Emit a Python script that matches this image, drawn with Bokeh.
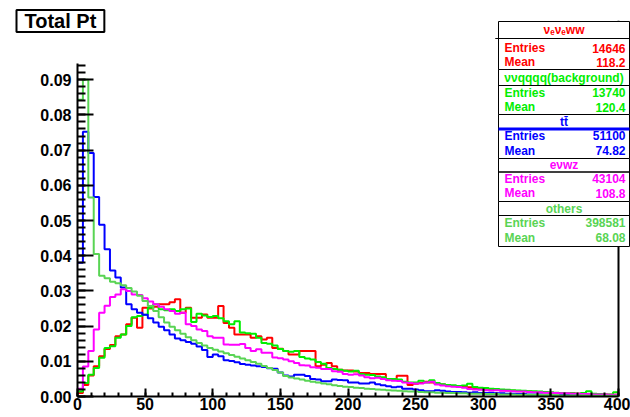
import numpy as np
from bokeh.plotting import figure
from bokeh.models import Label, BoxAnnotation, Span, FixedTicker, PrintfTickFormatter, Range1d
from bokeh.embed import file_html
from bokeh.resources import INLINE

# ---------------- data ----------------
bin_width = 4
x_low, x_high = 0, 400

red_vevew = [
    0.0010, 0.0033, 0.0060, 0.0086, 0.0114, 0.0135, 0.0146, 0.0171, 0.0176, 0.0205,
    0.0224, 0.0195, 0.0252, 0.0250, 0.0255, 0.0262, 0.0262, 0.0268, 0.0276, 0.0238,
    0.0252, 0.0224, 0.0224, 0.0233, 0.0224, 0.0224, 0.0257, 0.0209, 0.0195, 0.0176,
    0.0176, 0.0176, 0.0167, 0.0171, 0.0162, 0.0167, 0.0138, 0.0136, 0.0129, 0.0119,
    0.0119, 0.0129, 0.0129, 0.0129, 0.0086, 0.0090, 0.0095, 0.0086, 0.0076, 0.0074,
    0.0074, 0.0071, 0.0067, 0.0067, 0.0064, 0.0064, 0.0064, 0.0050, 0.0050, 0.0059,
    0.0059, 0.0033, 0.0036, 0.0038, 0.0042, 0.0040, 0.0036, 0.0034, 0.0031, 0.0030,
    0.0028, 0.0028, 0.0026, 0.0024, 0.0023, 0.0022, 0.0020, 0.0019, 0.0018, 0.0017,
    0.0016, 0.0015, 0.0015, 0.0014, 0.0013, 0.0012, 0.0012, 0.0011, 0.0010, 0.0010,
    0.0009, 0.0009, 0.0008, 0.0008, 0.0007, 0.0007, 0.0006, 0.0006, 0.0005, 0.0005,
]

green_vvqqqq = [
    0.0014, 0.0038, 0.0062, 0.0081, 0.0110, 0.0138, 0.0143, 0.0167, 0.0176, 0.0200,
    0.0225, 0.0229, 0.0232, 0.0252, 0.0262, 0.0248, 0.0245, 0.0248, 0.0243, 0.0248,
    0.0250, 0.0212, 0.0235, 0.0230, 0.0226, 0.0229, 0.0222, 0.0214, 0.0205, 0.0214,
    0.0182, 0.0180, 0.0178, 0.0167, 0.0152, 0.0150, 0.0145, 0.0135, 0.0129, 0.0127,
    0.0129, 0.0112, 0.0108, 0.0105, 0.0098, 0.0093, 0.0081, 0.0078, 0.0076, 0.0073,
    0.0071, 0.0073, 0.0064, 0.0062, 0.0061, 0.0057, 0.0055, 0.0050, 0.0050, 0.0048,
    0.0042, 0.0040, 0.0040, 0.0045, 0.0040, 0.0046, 0.0038, 0.0035, 0.0033, 0.0032,
    0.0030, 0.0031, 0.0036, 0.0027, 0.0025, 0.0024, 0.0022, 0.0021, 0.0020, 0.0019,
    0.0018, 0.0017, 0.0016, 0.0015, 0.0015, 0.0014, 0.0013, 0.0012, 0.0011, 0.0010,
    0.0010, 0.0009, 0.0008, 0.0010, 0.0015, 0.0008, 0.0007, 0.0006, 0.0006, 0.0012,
]

blue_tt = [
    0.0380, 0.0752, 0.0692, 0.0567, 0.0488, 0.0418, 0.0358, 0.0338, 0.0310, 0.0262,
    0.0248, 0.0238, 0.0232, 0.0222, 0.0210, 0.0198, 0.0188, 0.0176, 0.0165, 0.0160,
    0.0155, 0.0150, 0.0142, 0.0132, 0.0112, 0.0119, 0.0114, 0.0103, 0.0101, 0.0097,
    0.0092, 0.0090, 0.0088, 0.0086, 0.0084, 0.0080, 0.0079, 0.0068, 0.0060, 0.0057,
    0.0062, 0.0062, 0.0058, 0.0050, 0.0048, 0.0043, 0.0043, 0.0048, 0.0047, 0.0046,
    0.0040, 0.0040, 0.0037, 0.0037, 0.0040, 0.0035, 0.0032, 0.0029, 0.0026, 0.0028,
    0.0022, 0.0022, 0.0020, 0.0018, 0.0015, 0.0015, 0.0018, 0.0016, 0.0014, 0.0013,
    0.0013, 0.0012, 0.0011, 0.0012, 0.0010, 0.0010, 0.0011, 0.0009, 0.0009, 0.0008,
    0.0008, 0.0007, 0.0007, 0.0006, 0.0006, 0.0006, 0.0005, 0.0005, 0.0005, 0.0004,
    0.0004, 0.0004, 0.0003, 0.0004, 0.0003, 0.0003, 0.0003, 0.0002, 0.0003, 0.0002,
]

magenta_evwz = [
    0.0022, 0.0085, 0.0129, 0.0190, 0.0238, 0.0258, 0.0283, 0.0290, 0.0305, 0.0300,
    0.0290, 0.0288, 0.0279, 0.0270, 0.0262, 0.0255, 0.0248, 0.0243, 0.0235, 0.0238,
    0.0205, 0.0200, 0.0190, 0.0186, 0.0171, 0.0167, 0.0167, 0.0148, 0.0147, 0.0147,
    0.0149, 0.0138, 0.0129, 0.0134, 0.0124, 0.0124, 0.0111, 0.0109, 0.0105, 0.0100,
    0.0095, 0.0089, 0.0088, 0.0083, 0.0082, 0.0078, 0.0078, 0.0072, 0.0070, 0.0064,
    0.0062, 0.0063, 0.0060, 0.0055, 0.0052, 0.0053, 0.0050, 0.0046, 0.0045, 0.0044,
    0.0040, 0.0038, 0.0037, 0.0037, 0.0040, 0.0042, 0.0034, 0.0031, 0.0029, 0.0028,
    0.0027, 0.0025, 0.0021, 0.0020, 0.0019, 0.0018, 0.0017, 0.0018, 0.0016, 0.0016,
    0.0015, 0.0014, 0.0014, 0.0013, 0.0012, 0.0012, 0.0011, 0.0011, 0.0010, 0.0009,
    0.0009, 0.0008, 0.0008, 0.0007, 0.0007, 0.0006, 0.0006, 0.0006, 0.0005, 0.0005,
]

others = [
    0.0843, 0.0900, 0.0565, 0.0405, 0.0343, 0.0336, 0.0326, 0.0322, 0.0316, 0.0308,
    0.0298, 0.0286, 0.0271, 0.0257, 0.0243, 0.0225, 0.0210, 0.0198, 0.0188, 0.0178,
    0.0168, 0.0160, 0.0152, 0.0145, 0.0138, 0.0133, 0.0128, 0.0123, 0.0118, 0.0113,
    0.0108, 0.0103, 0.0098, 0.0093, 0.0087, 0.0081, 0.0075, 0.0068, 0.0058, 0.0054,
    0.0051, 0.0048, 0.0045, 0.0042, 0.0040, 0.0037, 0.0035, 0.0032, 0.0030, 0.0028,
    0.0027, 0.0025, 0.0024, 0.0022, 0.0021, 0.0020, 0.0019, 0.0018, 0.0017, 0.0016,
    0.0015, 0.0014, 0.0014, 0.0013, 0.0012, 0.0012, 0.0011, 0.0011, 0.0010, 0.0010,
    0.0009, 0.0009, 0.0008, 0.0008, 0.0008, 0.0007, 0.0007, 0.0007, 0.0006, 0.0006,
    0.0006, 0.0005, 0.0005, 0.0005, 0.0005, 0.0004, 0.0004, 0.0004, 0.0004, 0.0003,
    0.0003, 0.0003, 0.0003, 0.0003, 0.0002, 0.0002, 0.0002, 0.0002, 0.0002, 0.0002,
]

series_names = ["\u03bd\u2091\u03bd\u2091ww", "\u03bd\u03bdqqqq(background)", "tt\u0304", "e\u03bdwz", "others"]
series_colors = ["#ff0000", "#00ee00", "#0000ff", "#ff00ff", "#59d454"]
series_entries = ["14646", "13740", "51100", "43104", "398581"]
series_means = ["118.2", "120.4", "74.82", "108.8", "68.08"]
series_values = [red_vevew, green_vvqqqq, blue_tt, magenta_evwz, others]

x_major = [0, 50, 100, 150, 200, 250, 300, 350, 400]
y_major = [0.00, 0.01, 0.02, 0.03, 0.04, 0.05, 0.06, 0.07, 0.08, 0.09]
y_axis_top = 0.0945

# ---------------- figure ----------------
FONT = "Liberation Sans"
FL = 77      # page x of frame left
FT = 20      # page y of frame top
FB = 396     # page y of frame bottom
PX_PER_X = (618 - FL) / 400.0
PX_PER_Y = 35.2 / 0.01
W, H = 630, 417

p = figure(width=W, height=H,
           x_range=Range1d(x_low, (W - FL) / PX_PER_X),
           y_range=Range1d(0, (FB - FT) / PX_PER_Y),
           output_backend="svg", toolbar_location=None,
           min_border_left=FL, min_border_right=0,
           min_border_top=FT, min_border_bottom=H - FB)
p.outline_line_color = None
p.grid.grid_line_color = None
p.background_fill_color = "white"
p.border_fill_color = "white"

# title
p.title.text = "Total Pt"
p.title.align = "left"
p.title.offset = 16 - FL
p.title.standoff = -23
p.title.text_font = FONT
p.title.text_font_style = "bold"
p.title.text_font_size = "20px"
p.title.text_color = "black"
p.title.border_line_color = "black"
p.title.border_line_width = 2
p.title.background_fill_color = "white"
p.title.padding = (8, 0)

p.xaxis.ticker = FixedTicker(ticks=x_major, minor_ticks=list(range(0, 401, 10)))
p.yaxis.ticker = FixedTicker(ticks=y_major, minor_ticks=[round(0.002 * i, 3) for i in range(48)])
p.yaxis.formatter = PrintfTickFormatter(format="%.2f")
p.xaxis.bounds = (x_low, x_high)
p.yaxis.bounds = (0, y_axis_top)

for ax in (p.xaxis[0], p.yaxis[0]):
    ax.axis_line_width = 2
    ax.axis_line_color = "black"
    ax.major_tick_out = 0
    ax.minor_tick_out = 0
    ax.major_tick_line_width = 2
    ax.minor_tick_line_width = 2
    ax.major_label_text_font = FONT
    ax.major_label_text_font_style = "bold"
    ax.major_label_text_font_size = "16px"
    ax.major_label_text_color = "black"
p.xaxis.major_tick_in = 8
p.xaxis.minor_tick_in = 4
p.yaxis.major_tick_in = 16
p.yaxis.minor_tick_in = 8
p.xaxis.major_label_standoff = 1
p.yaxis.major_label_standoff = 6

edges = np.arange(x_low, x_high + bin_width, bin_width)
for vals, col in zip(series_values, series_colors):
    yv = list(vals) + [vals[-1]]
    p.step(x=edges, y=yv, mode="after", line_color=col, line_width=2)

# right frame edge
p.add_layout(Span(location=x_high, dimension="height", line_color="black", line_width=2))


def sx(px):
    return px - FL


def sy(py):
    return FB - py


def box(l, r, t, b, fill="white", line="black", lw=1):
    p.add_layout(BoxAnnotation(left=sx(l), right=sx(r), top=sy(t), bottom=sy(b),
                               left_units="screen", right_units="screen",
                               top_units="screen", bottom_units="screen",
                               fill_color=fill if fill else "white", fill_alpha=1 if fill else 0,
                               line_color=line if line else "black", line_width=lw,
                               line_alpha=1 if line else 0))


def text(x, y, s, color="black", align="left", size="12px"):
    p.add_layout(Label(x=sx(x), y=sy(y), x_units="screen", y_units="screen", text=s,
                       text_align=align, text_baseline="middle", text_color=color,
                       text_font=FONT, text_font_style="bold", text_font_size=size))


# stats boxes
BOX_L, BOX_R = 498, 629
rows = [  # top, bottom, header, separator, entries, mean
    (21, 69, 29.5, 38, 47.5, 61.5),
    (69, 114, 77, 85, 92, 106.5),
    (114, 158, 121.5, 128.5, 135, 150),
    (158, 201, 164, 171.5, 178, 192.5),
    (201, 246, 208, 215, 222, 237),
]
for i, (t, b, hy, sep, ey, my) in enumerate(rows):
    col = series_colors[i]
    box(BOX_L, BOX_R, t, b)
    if i == 2:
        box(BOX_L, BOX_R, sep - 1.5, sep + 1.5, fill=col, line=None)
    else:
        box(BOX_L - 3 if i == 0 else BOX_L, BOX_R, sep, sep, fill=None)
    text((BOX_L + BOX_R) / 2, hy, series_names[i], color=col, align="center")
    text(504, ey, "Entries", color=col)
    text(625, ey, series_entries[i], color=col, align="right")
    text(504, my, "Mean", color=col)
    text(625, my, series_means[i], color=col, align="right")

open("out.html", "w").write(file_html(p, INLINE))
